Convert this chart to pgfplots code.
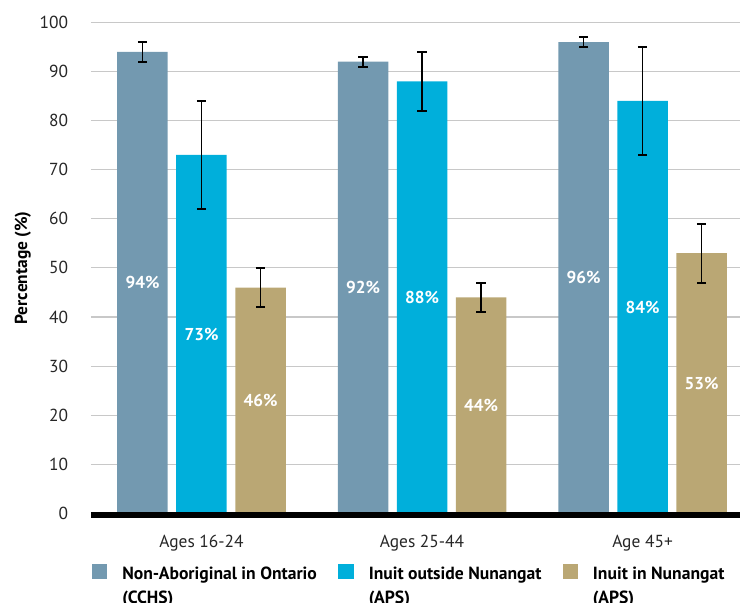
\documentclass[border=0pt]{standalone}
\usepackage{pgfplots}
\pgfplotsset{compat=1.18}
\usepackage{pgfplotstable}
\usepackage{fontspec}
\setmainfont{PT Sans}
\definecolor{cA}{HTML}{7399B0}
\definecolor{cB}{HTML}{00AFDB}
\definecolor{cC}{HTML}{BAA774}
\definecolor{gridc}{HTML}{C8C8C8}

\pgfplotstableread{
x v e h
-0.2676 94 2 47
0.7324 92 1 46
1.7324 96 1 48
}\nonab
\pgfplotstableread{
x v e h
0 73 11 36.5
1 88 6 44
2 84 11 42
}\outside
\pgfplotstableread{
x v e h
0.2676 46 4 23
1.2676 44 3 22
2.2676 53 6 26.5
}\inside

\begin{document}
\begin{tikzpicture}
\useasboundingbox (-45.5pt,-44.8pt) rectangle (324.5pt,256.7pt);
\begin{axis}[
  scale only axis, width=324.5pt, height=245.5pt,
  xmin=-0.5011, xmax=2.442, ymin=0, ymax=100,
  xtick={0,1,2}, xticklabels={Ages 16-24, Ages 25-44, Age 45+},
  ytick={0,10,...,100},
  ymajorgrids, grid style={gridc, line width=0.55pt},
  major tick length=0pt,
  axis line style={draw=none},
  clip=false,
  /pgf/number format/assume math mode=true,
  ticklabel style={font=\fontsize{8.7}{10}\selectfont, text=black!85},
  yticklabel style={anchor=east, inner sep=0pt, xshift=-11.3pt},
  xticklabel style={anchor=base, inner sep=0pt, yshift=-17.1pt},
  ylabel={Percentage (\%)},
  ylabel style={at={(axis description cs:-0.0986,0.5)}, anchor=base, font=\bfseries\fontsize{8.7}{10}\selectfont},
  legend columns=3,
  legend style={at={(axis description cs:0.0015,-0.1031)}, anchor=north west, draw=none, fill=none,
    inner sep=0pt, outer sep=0pt,
    cells={anchor=north west},
    nodes={inner sep=0pt, outer sep=0pt},
    font=\bfseries\fontsize{8.8}{12.2}\selectfont,
    /tikz/every odd column/.append style={column sep=7.6pt},
    /tikz/every even column/.append style={column sep=0pt}},
  legend image code/.code={\fill[#1] (0pt,1.3pt) rectangle (7.6pt,-6.3pt);},
  error bars/y dir=both, error bars/y explicit,
  error bars/error bar style={black, line width=0.8pt},
  error bars/error mark options={black, rotate=90, line width=1pt, mark size=2.3pt},
]
\addplot[ybar, bar width=0.229, bar shift=0, fill=cA, draw=none] table[x=x, y=v, y error=e] {\nonab};
\addplot[ybar, bar width=0.229, bar shift=0, fill=cB, draw=none] table[x=x, y=v, y error=e] {\outside};
\addplot[ybar, bar width=0.229, bar shift=0, fill=cC, draw=none] table[x=x, y=v, y error=e] {\inside};
\legend{{\parbox[t]{108pt}{\raggedright Non-Aboriginal in Ontario\\(CCHS)}},
        {\parbox[t]{96.9pt}{\raggedright Inuit outside Nunangat\\(APS)}},
        {\parbox[t]{80pt}{\raggedright Inuit in Nunangat\\(APS)}}}
\pgfplotsset{every node near coord/.style={anchor=center, text=white, font=\bfseries\fontsize{8.6}{10}\selectfont}}
\addplot[draw=none, mark=none, forget plot,
  point meta=explicit, nodes near coords={\pgfmathprintnumber{\pgfplotspointmeta}\%},
  nodes near coords align={center}] table[x=x, y=h, meta=v] {\nonab};
\addplot[draw=none, mark=none, forget plot,
  point meta=explicit, nodes near coords={\pgfmathprintnumber{\pgfplotspointmeta}\%},
  nodes near coords align={center}] table[x=x, y=h, meta=v] {\outside};
\addplot[draw=none, mark=none, forget plot,
  point meta=explicit, nodes near coords={\pgfmathprintnumber{\pgfplotspointmeta}\%},
  nodes near coords align={center}] table[x=x, y=h, meta=v] {\inside};
\draw[black, line width=2.7pt] ([yshift=-0.8pt]rel axis cs:0,0) -- ([yshift=-0.8pt]rel axis cs:1,0);
\end{axis}
\end{tikzpicture}
\end{document}
